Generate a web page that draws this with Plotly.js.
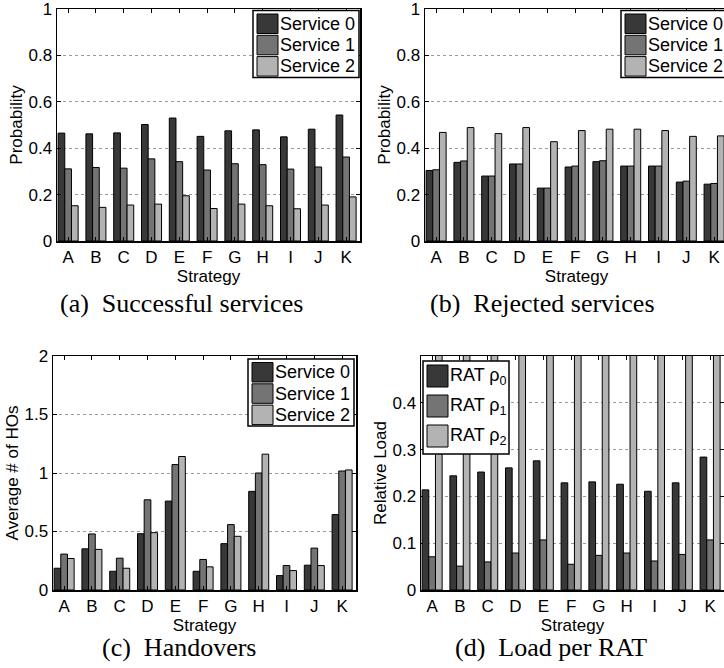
<!DOCTYPE html>
<html><head><meta charset="utf-8">
<script src="https://cdn.plot.ly/plotly-3.0.1.min.js"></script>
<style>html,body{margin:0;padding:0;overflow:hidden;background:#fff;width:724px;height:668px}</style>
</head><body><div id="chart" style="width:730px;height:668px"></div>
<script>
// ---- data ----
const strategies = ['A','B','C','D','E','F','G','H','I','J','K'];
const serviceNames = ['Service 0','Service 1','Service 2'];
const ratNames = ['RAT \u03c1<sub>0</sub>','RAT \u03c1<sub>1</sub>','RAT \u03c1<sub>2</sub>'];
const captions = ['(a)  Successful services','(b)  Rejected services','(c)  Handovers','(d)  Load per RAT'];

const successS0 = [0.465,0.462,0.466,0.502,0.530,0.451,0.475,0.479,0.449,0.482,0.543];
const successS1 = [0.311,0.317,0.314,0.354,0.342,0.306,0.333,0.329,0.310,0.319,0.362];
const successS2 = [0.152,0.145,0.155,0.159,0.195,0.140,0.159,0.152,0.139,0.155,0.190];

const rejectS0 = [0.304,0.339,0.280,0.332,0.228,0.319,0.342,0.323,0.323,0.254,0.245];
const rejectS1 = [0.307,0.345,0.280,0.332,0.228,0.323,0.346,0.323,0.323,0.258,0.248];
const rejectS2 = [0.468,0.489,0.463,0.489,0.428,0.476,0.482,0.482,0.476,0.451,0.453];

const hoS0 = [0.186,0.352,0.160,0.481,0.760,0.160,0.396,0.843,0.123,0.212,0.645];
const hoS1 = [0.307,0.479,0.272,0.771,1.072,0.261,0.559,1.000,0.209,0.358,1.017];
const hoS2 = [0.269,0.347,0.186,0.490,1.141,0.198,0.459,1.161,0.166,0.209,1.026];

const loadR0 = [0.214,0.244,0.252,0.261,0.276,0.229,0.231,0.226,0.211,0.229,0.284];
const loadR1 = [0.071,0.051,0.060,0.079,0.107,0.055,0.074,0.079,0.062,0.076,0.107];
const loadR2 = [0.71,0.70,0.69,0.66,0.62,0.72,0.70,0.70,0.73,0.70,0.61]; // off-scale in the figure

// ---- styling ----
const colors = ['#383838','#747474','#b3b3b3'];
const W = 730, H = 668;
const px = x => x / W;
const py = y => 1 - y / H;
const FONT = 'Liberation Sans, Arial, sans-serif';
const SERIF = 'Liberation Serif, Times New Roman, serif';

const panels = [
  {l:57,  r:360, t:9,   b:241, xa:'x',  ya:'y'},
  {l:425, r:728, t:9,   b:241, xa:'x2', ya:'y2'},
  {l:53,  r:356, t:356, b:590, xa:'x3', ya:'y3'},
  {l:421, r:724, t:356, b:590, xa:'x4', ya:'y4'}
];

const seriesSets = [
  [successS0, successS1, successS2],
  [rejectS0, rejectS1, rejectS2],
  [hoS0, hoS1, hoS2],
  [loadR0, loadR1, loadR2]
];
const nameSets = [serviceNames, serviceNames, serviceNames, ratNames];

const data = [];
seriesSets.forEach((set, pi) => {
  set.forEach((ys, si) => {
    data.push({
      type:'bar', x: strategies, y: ys, name: nameSets[pi][si],
      xaxis: panels[pi].xa, yaxis: panels[pi].ya,
      marker:{color: colors[si], line:{color:'#000', width:1}},
      showlegend:false, hoverinfo:'x+y+name'
    });
  });
});

function xAxis(p, anchor, layerBelow) {
  const a = {
    domain:[px(p.l), px(p.r)], anchor: anchor, type:'category',
    range:[-0.4, 10.5], showline:true, linecolor:'#000', linewidth:1.5,
    mirror:'ticks', ticks:'inside', ticklen:4, tickcolor:'#000',
    showgrid:false, zeroline:false, fixedrange:true, ticklabeloverflow:'allow',
    tickfont:{family:FONT, size:17, color:'#000'},
    title:{text:'Strategy', font:{family:FONT, size:17, color:'#000'}, standoff:0}
  };
  if (layerBelow) a.layer = 'below traces';
  return a;
}
function yAxis(p, anchor, range, tickvals, title, layerBelow) {
  const a = {
    domain:[py(p.b), py(p.t)], anchor: anchor, range: range,
    tickvals: tickvals, showline:true, linecolor:'#000', linewidth:1.5,
    mirror:'ticks', ticks:'inside', ticklen:4, tickcolor:'#000',
    showgrid:true, gridcolor:'#9a9a9a', griddash:'dot', gridwidth:1,
    zeroline:false, fixedrange:true, ticklabeloverflow:'allow',
    tickfont:{family:FONT, size:17, color:'#000'},
    title:{text:title, font:{family:FONT, size:17, color:'#000'}, standoff:1}
  };
  if (layerBelow) a.layer = 'below traces';
  return a;
}

const shapes = [];
const annotations = [];

function addLegend(p, labels, o) {
  const bl = o.left ? p.l + o.dx : p.r - o.w - o.dx;
  const bt = p.t + o.dy;
  shapes.push({type:'rect', xref:'paper', yref:'paper', layer:'above',
    x0:px(bl), x1:px(bl+o.w), y0:py(bt+o.h), y1:py(bt),
    line:{color:'#000', width:1.5}, fillcolor:'#fff'});
  labels.forEach((lab, i) => {
    const top = bt + o.s0 + o.pitch*i;
    shapes.push({type:'rect', xref:'paper', yref:'paper', layer:'above',
      x0:px(bl+4), x1:px(bl+25), y0:py(top+o.sh), y1:py(top),
      line:{color:'#000', width:1}, fillcolor:colors[i]});
    annotations.push({xref:'paper', yref:'paper', x:px(bl+25), y:py(top+o.sh/2 + (o.ty||0)),
      xanchor:'left', yanchor:'middle', showarrow:false, text:lab,
      font:{family:FONT, size:18, color:'#000'}});
  });
}

const svcLeg = {w:106, h:67, dx:1, dy:1.5, s0:3.5, pitch:21.3, sh:19.5};
addLegend(panels[0], serviceNames, svcLeg);
addLegend(panels[1], serviceNames, svcLeg);
addLegend(panels[2], serviceNames, {w:106, h:67, dx:2, dy:3, s0:3.5, pitch:21.3, sh:19.5});
addLegend(panels[3], ratNames, {left:true, w:86, h:93, dx:2, dy:5, s0:4, pitch:30, sh:22, ty:0});

const capPos = [[181,303],[542,303],[179,647],[551,647]];
captions.forEach((c, i) => {
  annotations.push({xref:'paper', yref:'paper', x:px(capPos[i][0]), y:py(capPos[i][1]),
    xanchor:'center', yanchor:'middle', showarrow:false, text:c,
    font:{family:SERIF, size:26, color:'#000'}});
});

const layout = {
  width:W, height:H, margin:{l:0, r:0, t:0, b:0},
  paper_bgcolor:'#fff', plot_bgcolor:'#fff',
  barmode:'group', bargap:0.28, bargroupgap:0,
  showlegend:false,
  xaxis: xAxis(panels[0], 'y'),
  yaxis: yAxis(panels[0], 'x', [0,1], [0,0.2,0.4,0.6,0.8,1], 'Probability'),
  xaxis2: xAxis(panels[1], 'y2'),
  yaxis2: yAxis(panels[1], 'x2', [0,1], [0,0.2,0.4,0.6,0.8,1], 'Probability'),
  xaxis3: xAxis(panels[2], 'y3'),
  yaxis3: yAxis(panels[2], 'x3', [0,2], [0,0.5,1,1.5,2], 'Average # of HOs'),
  xaxis4: xAxis(panels[3], 'y4', true),
  yaxis4: yAxis(panels[3], 'x4', [0,0.5], [0,0.1,0.2,0.3,0.4], 'Relative Load', true),
  shapes: shapes, annotations: annotations
};

Plotly.newPlot('chart', data, layout, {displayModeBar:false, staticPlot:true});
</script>
</body></html>
